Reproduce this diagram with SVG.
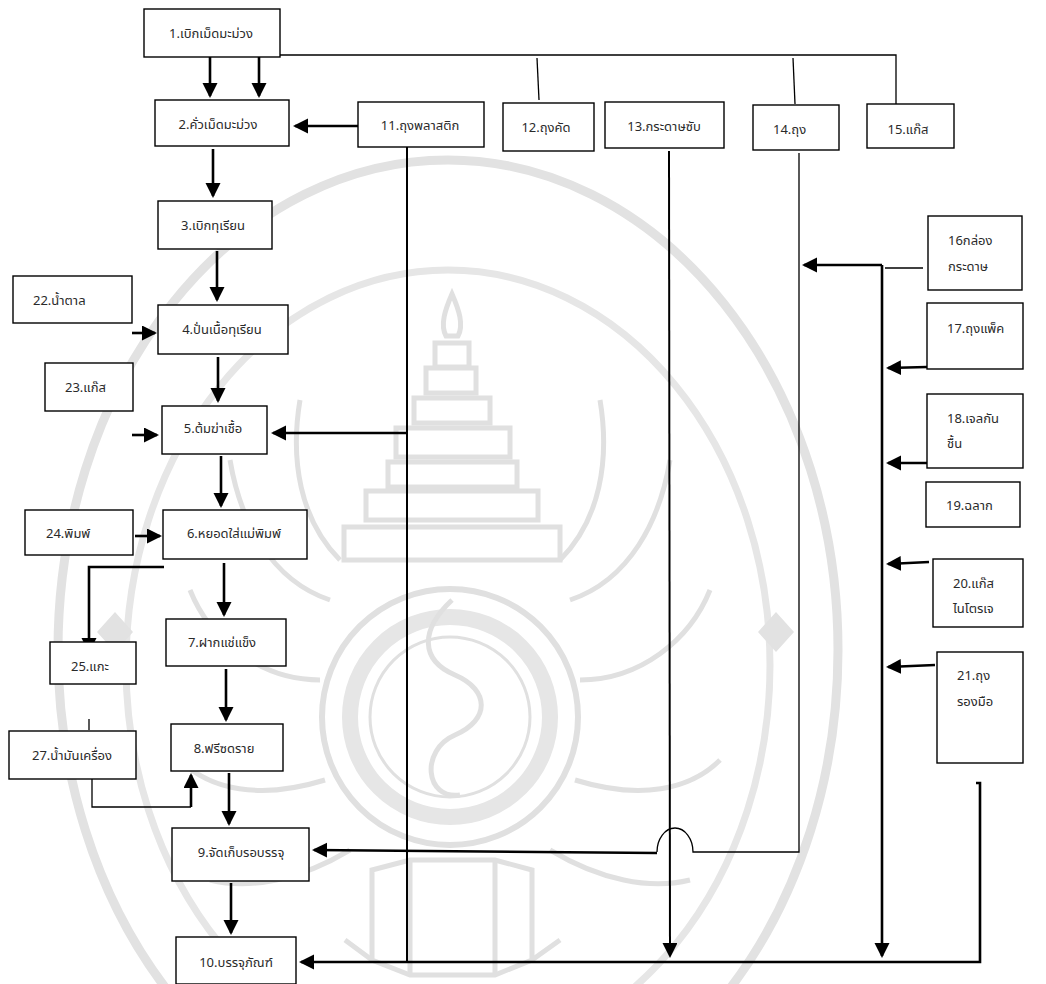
<svg xmlns="http://www.w3.org/2000/svg" width="1046" height="984" viewBox="0 0 1046 984">
<style>
.box{fill:#fff;stroke:#000;stroke-width:1.4}
.t{font-family:"Noto Sans Thai","Tahoma","Leelawadee UI","Noto Sans","DejaVu Sans",sans-serif;font-size:13px;fill:#2a2a2a}
.m{text-anchor:middle}
.thick{fill:none;stroke:#000;stroke-width:2.6}
.thin{fill:none;stroke:#000;stroke-width:1.3}
.mid{fill:none;stroke:#000;stroke-width:2}
.wm{fill:none;stroke:#e0e0e0;stroke-width:5}
</style>
<defs>
<marker id="ah" markerUnits="userSpaceOnUse" markerWidth="16" markerHeight="16" refX="13" refY="7.5" orient="auto">
<path d="M0,0 L15,7.5 L0,15 z" fill="#000"/>
</marker>
</defs>
<rect width="1046" height="984" fill="#fff"/>
<g id="watermark">
<ellipse cx="448" cy="650" rx="390" ry="490" fill="none" stroke="#e2e2e2" stroke-width="9"/>
<ellipse cx="448" cy="665" rx="322" ry="395" fill="none" stroke="#e6e6e6" stroke-width="7"/>
<circle cx="450" cy="717" r="128" fill="none" stroke="#e0e0e0" stroke-width="6"/>
<circle cx="450" cy="717" r="100" fill="none" stroke="#e6e6e6" stroke-width="16"/>
<circle cx="450" cy="717" r="80" fill="none" stroke="#e0e0e0" stroke-width="3"/>
<path class="wm" d="M452,600 C420,630 420,660 455,675 C490,690 490,720 455,735 C420,750 425,800 460,795"/>
<path class="wm" d="M452,294 C445,310 440,325 446,336 L458,336 C464,325 459,310 452,294 z"/>
<rect class="wm" x="435" y="343" width="34" height="24"/>
<rect class="wm" x="426" y="368" width="50" height="25"/>
<rect class="wm" x="414" y="398" width="76" height="25"/>
<rect class="wm" x="396" y="428" width="114" height="29"/>
<rect class="wm" x="388" y="462" width="129" height="25"/>
<rect class="wm" x="366" y="491" width="172" height="29"/>
<rect class="wm" x="344" y="527" width="216" height="33"/>
<path class="wm" d="M372,870 L410,860 L495,860 L532,870 L532,960 L495,975 L410,975 L372,960 z"/>
<path class="wm" d="M410,860 L410,975 M495,860 L495,975 M345,940 L372,960 M560,940 L532,960"/>
<path class="wm" d="M340,560 C300,520 290,460 300,400 M560,560 C600,520 610,460 600,400 M330,600 C270,580 240,520 230,460 M570,600 C630,580 660,520 670,460 M320,680 C260,680 210,640 190,590 M580,680 C640,680 690,640 710,590 M325,780 C260,800 210,790 180,760 M575,780 C640,800 690,790 720,760 M350,850 C300,880 250,890 210,880 M550,850 C600,880 650,890 690,880"/>
<path d="M115,612 L133,632 L115,652 L97,632 z M776,612 L794,632 L776,652 L758,632 z" fill="#e2e2e2"/>
</g>
<g id="connectors">
<path class="thin" d="M260,55 L896,55 L896,104"/>
<path class="thin" d="M537,58 L539,100"/>
<path class="thin" d="M793,58 L795,104"/>
<path class="thick" d="M210,48 L210,96" marker-end="url(#ah)"/>
<path class="thick" d="M259,55 L259,96" marker-end="url(#ah)"/>
<path class="thick" d="M358,126 L295,126" marker-end="url(#ah)"/>
<path class="thick" d="M213,149 L213,196" marker-end="url(#ah)"/>
<path class="thick" d="M217,251 L217,300" marker-end="url(#ah)"/>
<path class="thick" d="M132,333 L155,333" marker-end="url(#ah)"/>
<path class="thick" d="M218,357 L218,401" marker-end="url(#ah)"/>
<path class="thick" d="M132,435 L157,435" marker-end="url(#ah)"/>
<path class="mid" d="M407,147 L407,962"/>
<path class="thick" d="M408,433 L273,433" marker-end="url(#ah)"/>
<path class="thick" d="M221,456 L221,506" marker-end="url(#ah)"/>
<path class="thick" d="M135,536 L160,536" marker-end="url(#ah)"/>
<path class="thick" d="M164,567 L89,567 L89,651" marker-end="url(#ah)"/>
<path class="thick" d="M224,563 L224,615" marker-end="url(#ah)"/>
<path class="thick" d="M226,669 L226,720" marker-end="url(#ah)"/>
<path class="thin" d="M89,719 L89,730"/>
<path class="thin" d="M92,779 L92,807 L191,807"/>
<path class="thick" d="M191,807 L191,775" marker-end="url(#ah)"/>
<path class="thick" d="M229,773 L229,824" marker-end="url(#ah)"/>
<path class="thick" d="M231,883 L231,933" marker-end="url(#ah)"/>
<path class="thin" d="M799,153 L799,852 L693,852 A18,24 0 0 0 657,852"/>
<path class="thick" d="M657,853 L314,850" marker-end="url(#ah)"/>
<path class="mid" d="M669,151 L670,956" marker-end="url(#ah)"/>
<path class="thin" d="M885,268 L923,268"/>
<path class="thick" d="M882,265 L882,956" marker-end="url(#ah)"/>
<path class="thick" d="M882,265 L804,265" marker-end="url(#ah)"/>
<path class="thick" d="M927,367 L888,368" marker-end="url(#ah)"/>
<path class="thick" d="M927,463 L888,463" marker-end="url(#ah)"/>
<path class="thick" d="M929,562 L888,564" marker-end="url(#ah)"/>
<path class="thick" d="M935,665 L888,667" marker-end="url(#ah)"/>
<path class="thick" d="M976,783 L980,783 L980,962 L301,962" marker-end="url(#ah)"/>
</g>
<g id="n1"><rect class="box" x="144" y="9" width="136" height="48"/><text class="t m" x="211" y="38">1.เบิกเม็ดมะม่วง</text></g>
<g id="n2"><rect class="box" x="155" y="100" width="134" height="46"/><text class="t m" x="218" y="129">2.คั่วเม็ดมะม่วง</text></g>
<g id="n3"><rect class="box" x="158" y="201" width="114" height="48"/><text class="t m" x="213" y="230">3.เบิกทุเรียน</text></g>
<g id="n4"><rect class="box" x="158" y="305" width="130" height="49"/><text class="t m" x="222" y="334">4.ปั่นเนื้อทุเรียน</text></g>
<g id="n5"><rect class="box" x="162" y="406" width="105" height="48"/><text class="t m" x="213" y="433">5.ต้มฆ่าเชื้อ</text></g>
<g id="n6"><rect class="box" x="163" y="510" width="144" height="49"/><text class="t m" x="234" y="538">6.หยอดใส่แม่พิมพ์</text></g>
<g id="n7"><rect class="box" x="166" y="619" width="120" height="47"/><text class="t m" x="222" y="647">7.ฝากแช่แข็ง</text></g>
<g id="n8"><rect class="box" x="171" y="724" width="112" height="47"/><text class="t m" x="224" y="753">8.ฟรีซดราย</text></g>
<g id="n9"><rect class="box" x="172" y="828" width="137" height="53"/><text class="t m" x="241" y="857">9.จัดเก็บรอบรรจุ</text></g>
<g id="n10"><rect class="box" x="176" y="937" width="120" height="47"/><text class="t m" x="236" y="967">10.บรรจุภัณฑ์</text></g>
<g id="n11"><rect class="box" x="358" y="102" width="126" height="45"/><text class="t m" x="420" y="130">11.ถุงพลาสติก</text></g>
<g id="n12"><rect class="box" x="503" y="103" width="91" height="48"/><text class="t m" x="546" y="132">12.ถุงคัด</text></g>
<g id="n13"><rect class="box" x="605" y="102" width="119" height="46"/><text class="t m" x="664" y="131">13.กระดาษซับ</text></g>
<g id="n14"><rect class="box" x="753" y="105" width="86" height="45"/><text class="t" x="773" y="134">14.ถุง</text></g>
<g id="n15"><rect class="box" x="867" y="104" width="87" height="44"/><text class="t m" x="908" y="134">15.แก๊ส</text></g>
<g id="n16"><rect class="box" x="928" y="216" width="94" height="74"/><text class="t" x="948" y="245">16กล่อง</text><text class="t" x="948" y="271">กระดาษ</text></g>
<g id="n17"><rect class="box" x="927" y="303" width="96" height="66"/><text class="t" x="947" y="333">17.ถุงแพ็ค</text></g>
<g id="n18"><rect class="box" x="927" y="394" width="96" height="74"/><text class="t" x="947" y="423">18.เจลกัน</text><text class="t" x="947" y="448">ชื้น</text></g>
<g id="n19"><rect class="box" x="926" y="482" width="94" height="45"/><text class="t" x="946" y="510">19.ฉลาก</text></g>
<g id="n20"><rect class="box" x="933" y="559" width="90" height="68"/><text class="t" x="953" y="588">20.แก๊ส</text><text class="t" x="953" y="613">ไนโตรเจ</text></g>
<g id="n21"><rect class="box" x="937" y="652" width="86" height="111"/><text class="t" x="957" y="680">21.ถุง</text><text class="t" x="957" y="706">รองมือ</text></g>
<g id="n22"><rect class="box" x="13" y="276" width="119" height="47"/><text class="t" x="33" y="305">22.น้ำตาล</text></g>
<g id="n23"><rect class="box" x="45" y="363" width="88" height="48"/><text class="t" x="65" y="392">23.แก๊ส</text></g>
<g id="n24"><rect class="box" x="25" y="510" width="108" height="45"/><text class="t" x="46" y="538">24.พิมพ์</text></g>
<g id="n25"><rect class="box" x="50" y="642" width="86" height="42"/><text class="t" x="71" y="671">25.แกะ</text></g>
<g id="n27"><rect class="box" x="9" y="731" width="127" height="48"/><text class="t m" x="72" y="760">27.น้ำมันเครื่อง</text></g>
</svg>
